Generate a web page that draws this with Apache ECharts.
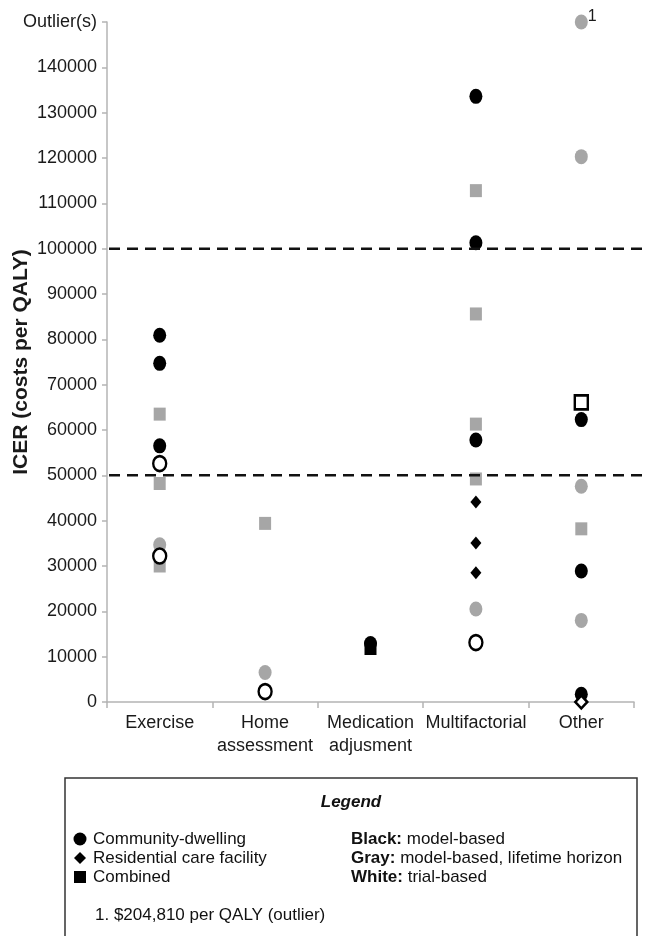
<!DOCTYPE html>
<html>
<head>
<meta charset="utf-8">
<script src="https://cdn.jsdelivr.net/npm/echarts@6/dist/echarts.min.js"></script>
<style>
html,body{margin:0;padding:0;background:#fff;}
#c{width:648px;height:936px;}
</style>
</head>
<body>
<div id="c"></div>
<script>
const categories = ['Exercise', 'Home\nassessment', 'Medication\nadjusment', 'Multifactorial', 'Other'];
const yTickMax = 150000;
const outlierTickLabel = 'Outlier(s)';
const thresholds = [50000, 100000];

// [category index, ICER]
const blackCircle = [[0,80900],[0,74700],[0,56500],[2,12900],[3,133600],[3,101300],[3,57800],[4,62300],[4,28900],[4,1700]];
const grayCircle = [[0,34700],[1,6500],[3,20500],[4,120300],[4,47600],[4,18000]];
const grayOutlier = [[4,150000]];
const whiteCircle = [[0,52600],[0,32200],[1,2300],[3,13100]];
const blackDiamond = [[3,44100],[3,35100],[3,28500]];
const whiteDiamond = [[4,0]];
const blackSquare = [[2,11800]];
const graySquare = [[0,63500],[0,48200],[0,30000],[1,39400],[3,112800],[3,85600],[3,61300],[3,49200],[4,38200]];
const whiteSquare = [[4,66100]];

const FONT = '"Liberation Sans", Arial, sans-serif';
const GRAY = '#a6a6a6';
const DIAMOND = 'path://M0,-1L1,0L0,1L-1,0Z';

function sc(name, data, symbol, size, fill, border, z) {
  return {
    name: name, type: 'scatter', data: data, symbol: symbol, symbolSize: size, z: z,
    itemStyle: { color: fill, borderColor: border || fill, borderWidth: border ? 2.5 : 0, opacity: 1 },
    emphasis: { disabled: true }, silent: true
  };
}

const chart = echarts.init(document.getElementById('c'), null, { renderer: 'canvas' });
const option = {
  animation: false,
  backgroundColor: '#fff',
  grid: { left: 107, right: 14, top: 22, bottom: 234, containLabel: false, outerBoundsMode: 'none' },
  xAxis: {
    type: 'category', data: categories, boundaryGap: true,
    axisLine: { lineStyle: { color: '#b4b4b4', width: 1.5 } },
    axisTick: { show: true, alignWithLabel: false, length: 6, lineStyle: { color: '#b4b4b4', width: 1.5 } },
    axisLabel: { color: '#1a1a1a', fontFamily: FONT, fontSize: 18, lineHeight: 23, margin: 10, interval: 0 },
    splitLine: { show: false }
  },
  yAxis: {
    type: 'value', min: 0, max: yTickMax, interval: 10000,
    name: 'ICER (costs per QALY)', nameLocation: 'middle', nameGap: 75, nameRotate: 90,
    nameMoveOverlap: false,
    nameTextStyle: { fontFamily: FONT, fontSize: 21, fontWeight: 'bold', color: '#1a1a1a' },
    axisLine: { show: true, lineStyle: { color: '#b4b4b4', width: 1.5 } },
    axisTick: { show: true, inside: false, length: 5, lineStyle: { color: '#b4b4b4', width: 1.5 } },
    axisLabel: {
      color: '#1a1a1a', fontFamily: FONT, fontSize: 18, margin: 10,
      formatter: function (v) { return v === yTickMax ? outlierTickLabel : String(v); }
    },
    splitLine: { show: false }
  },
  series: [
    sc('Gray square', graySquare, 'rect', [12, 13], GRAY, null, 2),
    sc('Gray circle', grayCircle, 'circle', [13, 15], GRAY, null, 2),
    Object.assign(sc('Gray outlier', grayOutlier, 'circle', [13, 15], GRAY, null, 2), {
      label: { show: true, position: 'right', formatter: '1', distance: 1, offset: [-1, -5],
               fontFamily: FONT, fontSize: 16, color: '#1a1a1a' }
    }),
    sc('Black square', blackSquare, 'rect', [12, 13], '#000', null, 3),
    sc('Black diamond', blackDiamond, DIAMOND, [11, 13], '#000', null, 3),
    sc('Black circle', blackCircle, 'circle', [13, 15], '#000', null, 3),
    sc('White circle', whiteCircle, 'circle', [13, 15], '#fff', '#000', 4),
    sc('White square', whiteSquare, 'rect', [13, 14], '#fff', '#000', 4),
    sc('White diamond', whiteDiamond, DIAMOND, [12, 13], '#fff', '#000', 4)
  ]
};
chart.setOption(option);

// reference threshold lines, positioned through the y scale
const gridLeft = chart.convertToPixel({ xAxisIndex: 0 }, 0) - (chart.convertToPixel({ xAxisIndex: 0 }, 1) - chart.convertToPixel({ xAxisIndex: 0 }, 0)) / 2;
const graphics = [];
thresholds.forEach(function (t) {
  const y = chart.convertToPixel({ yAxisIndex: 0 }, t);
  graphics.push({
    type: 'line', z: 10, silent: true,
    shape: { x1: gridLeft + 2, y1: y, x2: 648, y2: y },
    style: { stroke: '#111', lineWidth: 2.5, lineDash: [11, 7] }
  });
});

// legend box
const bx = 65, by = 778;
graphics.push({ type: 'rect', shape: { x: bx, y: by, width: 572, height: 170 },
  style: { fill: '#fff', stroke: '#333', lineWidth: 1.5 }, z: 20 });
graphics.push({ type: 'text', x: 351, y: 802, z: 21,
  style: { text: 'Legend', fontFamily: FONT, fontSize: 17, fontWeight: 'bold', fontStyle: 'italic',
           fill: '#111', textAlign: 'center', textVerticalAlign: 'middle' } });
const rows = [839, 858, 877];
graphics.push({ type: 'circle', z: 21, shape: { cx: 80, cy: rows[0], r: 6.5 }, style: { fill: '#000' } });
graphics.push({ type: 'polygon', z: 21, shape: { points: [[80, rows[1] - 6], [86, rows[1]], [80, rows[1] + 6], [74, rows[1]]] }, style: { fill: '#000' } });
graphics.push({ type: 'rect', z: 21, shape: { x: 74, y: rows[2] - 6, width: 12, height: 12 }, style: { fill: '#000' } });
const leftTexts = ['Community-dwelling', 'Residential care facility', 'Combined'];
leftTexts.forEach(function (t, i) {
  graphics.push({ type: 'text', z: 21, x: 93, y: rows[i],
    style: { text: t, fontFamily: FONT, fontSize: 17, fill: '#111', textVerticalAlign: 'middle' } });
});
const rightKeys = ['Black:', 'Gray:', 'White:'];
const rightTexts = [' model-based', ' model-based, lifetime horizon', ' trial-based'];
rightKeys.forEach(function (k, i) {
  graphics.push({ type: 'text', z: 21, x: 351, y: rows[i],
    style: { text: '{b|' + k + '}{n|' + rightTexts[i] + '}', fill: '#111', textVerticalAlign: 'middle',
      rich: { b: { fontFamily: FONT, fontSize: 17, fontWeight: 'bold', fill: '#111' },
              n: { fontFamily: FONT, fontSize: 17, fill: '#111' } } } });
});
graphics.push({ type: 'text', z: 21, x: 95, y: 915,
  style: { text: '1. $204,810 per QALY (outlier)', fontFamily: FONT, fontSize: 17, fill: '#111', textVerticalAlign: 'middle' } });

chart.setOption({ graphic: graphics });
</script>
</body>
</html>
